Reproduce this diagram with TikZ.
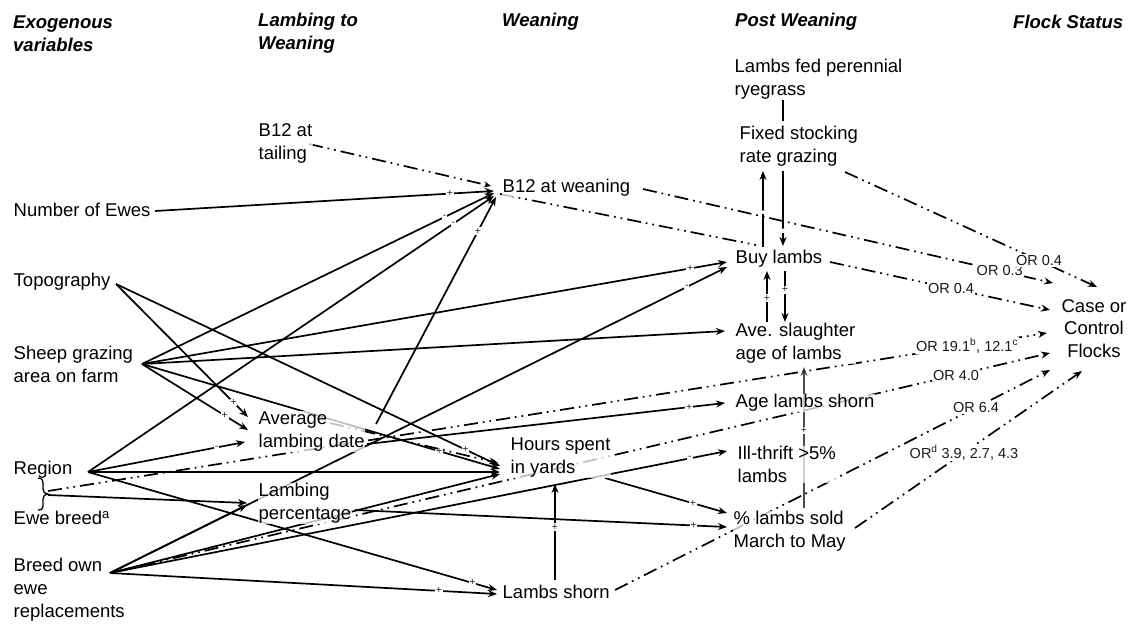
\documentclass[tikz,border=0pt]{standalone}
\usepackage{fontspec}
\setmainfont{Liberation Sans}
\usetikzlibrary{arrows.meta,backgrounds}
\begin{document}
\begin{tikzpicture}[x=1pt,y=-1pt,
  txt/.style={inner sep=0.5pt, anchor=west, align=left, font=\fontsize{18.5}{22.8}\selectfont, fill=white, fill opacity=0.75, text opacity=1},
  hdr/.style={inner sep=0pt, anchor=west, align=left, font=\fontsize{18.5}{22.8}\selectfont\bfseries\itshape},
  ar/.style={line width=1.7pt, -{Stealth[length=9pt,width=7pt]}},
  ln/.style={line width=1.7pt},
  dd/.style={line width=1.7pt, dash pattern=on 14pt off 5pt on 1.7pt off 5pt on 1.7pt off 5pt},
  ddar/.style={dd, -{Stealth[length=9pt,width=7pt]}},
  sg/.style={font=\fontsize{10.5}{10.5}\selectfont, inner sep=0.8pt, fill=white, text=black!85},
  orl/.style={font=\fontsize{14.5}{16}\selectfont, inner sep=1pt, fill=white, text=black!90},
]
\useasboundingbox (0,0) rectangle (1134,627);

% headers
\node[hdr] (hExo) at (13,33.5) {Exogenous\\variables};
\node[hdr] (hLamb) at (258,33.5) {Lambing to\\Weaning};
\node[hdr] (hWean) at (502,22) {Weaning};
\node[hdr] (hPost) at (735,22) {Post Weaning};
\node[hdr] (hFlock) at (1013,22) {Flock Status};

% variables
\node[txt] (ewes) at (13,210) {Number of Ewes};
\node[txt] (topo) at (13,282) {Topography};
\node[txt] (sheep) at (13,364) {Sheep grazing\\area on farm};
\node[txt] (region) at (13,470) {Region};
\node[txt] (ewebr) at (13,518) {Ewe breed\textsuperscript{a}};
\node[txt, fill=none] (breed) at (13,590) {Breed own\\ewe\\replacements};
\node[txt] (tail) at (258,143.5) {B12 at\\tailing};
\node[txt] (avg) at (258,431.5) {Average\\lambing date};
\node[txt] (lperc) at (258,503.5) {Lambing\\percentage};
\node[txt] (b12w) at (502,188) {B12 at weaning};
\node[txt] (hours) at (510,457.5) {Hours spent\\in yards};
\node[txt] (shorn) at (502,592) {Lambs shorn};
\node[txt] (rye) at (734,79.5) {Lambs fed perennial\\ryegrass};
\node[txt] (fixed) at (739,146) {Fixed stocking\\rate grazing};
\node[txt] (buy) at (735,259) {Buy lambs};
\node[txt] (slaught) at (735,343.5) {Ave. slaughter\\age of lambs};
\node[txt] (agesh) at (735,403) {Age lambs shorn};
\node[txt] (ill) at (737,464.5) {Ill-thrift >5\%\\lambs};
\node[txt] (sold) at (733,531.5) {\% lambs sold\\March to May};
\node[txt, anchor=center, align=center] (case) at (1094,328.5) {Case or\\Control\\Flocks};

% ports
\coordinate (hEwes) at (155,211);
\coordinate (hTopo) at (116,284);
\coordinate (hSheep) at (142,364);
\coordinate (hReg) at (88,472);
\coordinate (hBreed) at (110,573);
\coordinate (brTip) at (48,495);
\coordinate (brTip2) at (48,491);
\coordinate (tailE) at (309,144);
\coordinate (b12inT) at (491,186);
\coordinate (b12in1) at (494,191);
\coordinate (b12in2) at (494,193);
\coordinate (b12in3) at (494,196);
\coordinate (b12in4) at (496,197);
\coordinate (b12L) at (500,194);
\coordinate (b12E) at (643,189);
\coordinate (avgNE) at (376,424);
\coordinate (avgE) at (367,444);
\coordinate (avgE2) at (330,423);
\coordinate (avgIn1) at (248,417);
\coordinate (avgIn2) at (248,430);
\coordinate (avgIn3) at (245,442);
\coordinate (lpIn1) at (247,503);
\coordinate (lpIn2) at (247,505);
\coordinate (lpE) at (355,510);
\coordinate (hIn1) at (500,466);
\coordinate (hIn2) at (500,469);
\coordinate (hIn3) at (500,472);
\coordinate (hIn4) at (500,474);
\coordinate (hIn5) at (498,463);
\coordinate (hoursB) at (555,484);
\coordinate (hoursE) at (605,478);
\coordinate (shornN) at (555,580);
\coordinate (shornE) at (615,590);
\coordinate (shIn1) at (497,590);
\coordinate (shIn2) at (497,594);
\coordinate (buyIn1) at (727,262);
\coordinate (buyIn2) at (727,267);
\coordinate (buyE) at (830,262);
\coordinate (buyT1) at (763,247);
\coordinate (buyT2) at (783,246);
\coordinate (buyB1) at (767,271);
\coordinate (buyB2) at (785,271);
\coordinate (buyTL) at (756,245);
\coordinate (fixB1) at (763,171);
\coordinate (fixB2) at (783,171);
\coordinate (fixT) at (783,121);
\coordinate (fixE) at (845,172);
\coordinate (ryeB) at (783,100);
\coordinate (slIn) at (725,331);
\coordinate (slT1) at (767,322);
\coordinate (slT2) at (785,322);
\coordinate (slB) at (804,367);
\coordinate (ageIn) at (725,403);
\coordinate (illIn) at (727,451);
\coordinate (soldIn1) at (727,513);
\coordinate (soldIn2) at (727,527);
\coordinate (soldT) at (804,508);
\coordinate (soldE) at (855,528);
\coordinate (cIn1) at (1097,287);
\coordinate (cIn2) at (1053,283);
\coordinate (cIn3) at (1050,310);
\coordinate (cIn4) at (1047,333);
\coordinate (cIn5) at (1050,353);
\coordinate (cIn6) at (1050,370);
\coordinate (cIn7) at (1082,371);

% brace between Region and Ewe breed
\draw[line width=1.3pt] (38,478) .. controls (43,478) and (43,481) .. (43,486) -- (43,489)
  .. controls (43,492) and (45,494) .. (48,494) .. controls (45,494) and (43,496) .. (43,499)
  -- (43,503) .. controls (43,508) and (43,510) .. (38,510);

\begin{pgfonlayer}{background}
\fill[white] (0,0) rectangle (1134,627);
% solid paths
\draw[ln] (ryeB) -- (fixT);
\draw[ar] (hEwes) -- node[sg,pos=0.87]{+} (b12in1);
\draw[ar] (hSheep) -- node[sg,pos=0.86]{-} (b12in2);
\draw[ar] (hReg) -- node[sg,pos=0.9]{-} (b12in3);
\draw[ar] (avgNE) -- node[sg,pos=0.85]{+} (b12in4);
\draw[ar] (hSheep) -- node[sg,pos=0.937]{+} (buyIn1);
\draw[ar] (hBreed) -- node[sg,pos=0.935]{-} (buyIn2);
\draw[ar] (hSheep) -- (slIn);
\draw[ar] (hTopo) -- node[sg,pos=0.89]{+} (avgIn1);
\draw[ar] (hSheep) -- node[sg,pos=0.78]{+} (avgIn2);
\draw[ar] (hReg) -- node[sg,pos=0.82]{-} (avgIn3);
\draw[ar] (hTopo) -- node[sg,pos=0.91]{+} (hIn1);
\draw[ar] (hSheep) -- node[sg,pos=0.83]{+} (hIn2);
\draw[ar] (hReg) -- (hIn3);
\draw[ar] (hBreed) -- (hIn4);
\draw[ar] (brTip) -- (lpIn1);
\draw[ar] (hBreed) -- (lpIn2);
\draw[ar] (lpE) -- node[sg,pos=0.91]{+} (soldIn2);
\draw[ar] (hoursE) -- node[sg,pos=0.72]{+} (soldIn1);
\draw[ar] (hReg) -- node[sg,pos=0.94]{+} (shIn1);
\draw[ar] (hBreed) -- node[sg,pos=0.85]{+} (shIn2);
\draw[ar] (shornN) -- node[sg,pos=0.55]{+} (hoursB);
\draw[ar] (avgE) -- node[sg,pos=0.9]{+} (ageIn);
\draw[ar] (hBreed) -- node[sg,pos=0.94]{-} (illIn);
\draw[ar] (buyT1) -- node[sg,pos=0.46]{-} (fixB1);
\draw[ar] (fixB2) -- node[sg,pos=0.79]{-} (buyT2);
\draw[ar] (slT1) -- node[sg,pos=0.47]{+} (buyB1);
\draw[ar] (buyB2) -- node[sg,pos=0.37]{+} (slT2);
\draw[ar, line width=1.1pt, black!70] (soldT) -- node[sg,pos=0.55]{+} (slB);
% dash-dot paths
\draw[dd, -{Stealth[length=7pt,width=6pt]}] (tailE) -- (b12inT);
\draw[dd] (b12L) -- (buyTL);
\draw[ddar] (avgE2) -- (hIn5);
\draw[ddar] (buyE) -- node[orl,pos=0.55]{OR 0.4} (cIn3);
\draw[ddar] (b12E) -- node[orl,pos=0.87]{OR 0.3} (cIn2);
\draw[ddar] (fixE) -- node[orl,pos=0.77]{OR 0.4} (cIn1);
\draw[ddar] (brTip2) -- node[orl,pos=0.92]{OR 19.1\textsuperscript{b}, 12.1\textsuperscript{c}} (cIn4);
\draw[ddar] (hBreed) -- node[orl,pos=0.9]{OR 4.0} (cIn5);
\draw[ddar] (shornE) -- node[orl,pos=0.83]{OR 6.4} (cIn6);
\draw[ddar] (soldE) -- node[orl,pos=0.48]{OR\textsuperscript{d} 3.9, 2.7, 4.3} (cIn7);
\end{pgfonlayer}
\end{tikzpicture}
\end{document}
